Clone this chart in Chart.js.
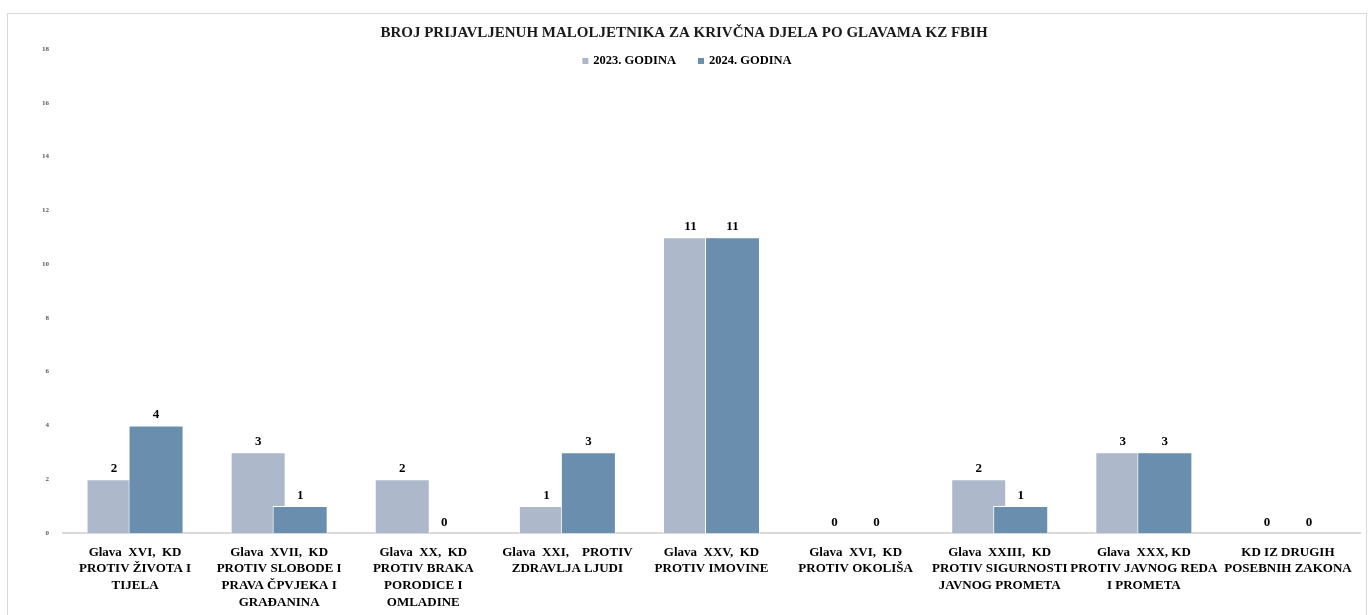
<!DOCTYPE html>
<html>
<head>
    <style>
        body, html {
            margin: 0;
            background: #ffffff;
        }
        #box {
            position: absolute;
            left: 7px;
            top: 13px;
            width: 1358px;
            height: 610px;
            border: 1px solid #d9d9d9;
        }
    </style>
    <script src="https://cdn.jsdelivr.net/npm/chart.js"></script>
</head>
<body>
    <div id="box">
        <canvas id="kzChart"></canvas>
    </div>

    <script>
        // categories (split into lines like in the original)
        const categories = [
            ["Glava  XVI,  KD", "PROTIV ŽIVOTA I", "TIJELA"],
            ["Glava  XVII,  KD", "PROTIV SLOBODE I", "PRAVA ČPVJEKA I", "GRAĐANINA"],
            ["Glava  XX,  KD", "PROTIV BRAKA", "PORODICE I", "OMLADINE"],
            ["Glava  XXI,    PROTIV", "ZDRAVLJA LJUDI"],
            ["Glava  XXV,  KD", "PROTIV IMOVINE"],
            ["Glava  XVI,  KD", "PROTIV OKOLIŠA"],
            ["Glava  XXIII,  KD", "PROTIV SIGURNOSTI", "JAVNOG PROMETA"],
            ["Glava  XXX, KD", "PROTIV JAVNOG REDA", "I PROMETA"],
            ["KD IZ DRUGIH", "POSEBNIH ZAKONA"]
        ];
        const values2023 = [2, 3, 2, 1, 11, 0, 2, 3, 0];
        const values2024 = [4, 1, 0, 3, 11, 0, 1, 3, 0];
        const seriesNames = ["2023. GODINA", "2024. GODINA"];
        const seriesColors = ['#adb9ca', '#6a8fae'];
        const yTicks = [0, 2, 4, 6, 8, 10, 12, 14, 16, 18];

        const FONT = "'Liberation Serif', serif";

        // paint datasets in index order so the 2024 bar lands on top of the
        // overlapping 2023 bar (chart.js normally paints the first one last)
        const paintOrder = {
            id: 'paintOrder',
            beforeDatasetsDraw(chart) {
                chart.data.datasets.forEach((ds, i) => {
                    const meta = chart.getDatasetMeta(i);
                    if (meta.visible !== false) meta.controller.draw();
                });
                return false;
            }
        };

        // value labels above the bars
        const valueLabels = {
            id: 'valueLabels',
            afterDraw(chart) {
                const ctx = chart.ctx;
                ctx.save();
                ctx.font = 'bold 13px ' + FONT;
                ctx.fillStyle = '#000000';
                ctx.textAlign = 'center';
                ctx.textBaseline = 'bottom';
                chart.data.datasets.forEach((ds, i) => {
                    chart.getDatasetMeta(i).data.forEach((bar, j) => {
                        ctx.fillText(String(ds.data[j]), bar.x, bar.y - 4);
                    });
                });
                ctx.restore();
            }
        };

        // legend drawn over the plot, like excel does
        const topLegend = {
            id: 'topLegend',
            afterDraw(chart) {
                const ctx = chart.ctx;
                ctx.save();
                ctx.font = 'bold 12.5px ' + FONT;
                ctx.textBaseline = 'middle';
                const box = 6, gap = 5, spacing = 22;
                const items = seriesNames.map((name, i) => ({
                    text: name,
                    color: seriesColors[i],
                    w: box + gap + ctx.measureText(name).width
                }));
                const total = items.reduce((s, it) => s + it.w, 0) + spacing * (items.length - 1);
                let x = (chart.width - total) / 2;
                const y = 47;
                items.forEach(it => {
                    ctx.fillStyle = it.color;
                    ctx.fillRect(x, y - box / 2, box, box);
                    ctx.fillStyle = '#000000';
                    ctx.fillText(it.text, x + box + gap, y);
                    x += it.w + spacing;
                });
                ctx.restore();
            }
        };

        const kzChart = new Chart(document.getElementById('kzChart'), {
            type: 'bar',
            data: {
                labels: categories,
                datasets: [{
                    label: seriesNames[0],
                    data: values2023,
                    backgroundColor: seriesColors[0]
                }, {
                    label: seriesNames[1],
                    data: values2024,
                    backgroundColor: seriesColors[1]
                }]
            },
            options: {
                responsive: true,
                maintainAspectRatio: false,
                animation: false,
                datasets: {
                    bar: {
                        borderColor: '#ffffff',
                        borderWidth: 1,
                        categoryPercentage: 0.583,
                        barPercentage: 1.31
                    }
                },
                layout: {
                    padding: { left: 0, right: 6, top: 0, bottom: 0 }
                },
                scales: {
                    x: {
                        grid: { display: false },
                        border: { display: true, color: '#d9d9d9', width: 2 },
                        ticks: {
                            autoSkip: false,
                            maxRotation: 0,
                            color: '#000000',
                            padding: 3,
                            font: { family: FONT, size: 13, weight: 'bold', lineHeight: 1.28 }
                        },
                        afterFit(scale) { scale.height = 91; }
                    },
                    y: {
                        min: 0,
                        max: 18,
                        afterBuildTicks(scale) {
                            scale.ticks = yTicks.map(v => ({ value: v }));
                        },
                        grid: { display: false },
                        border: { display: false },
                        ticks: {
                            color: '#595959',
                            padding: 6,
                            font: { family: FONT, size: 7, weight: 'bold' }
                        },
                        afterFit(scale) { scale.width = 55; }
                    }
                },
                plugins: {
                    legend: { display: false },
                    tooltip: { enabled: false },
                    title: {
                        display: true,
                        text: 'BROJ PRIJAVLJENUH MALOLJETNIKA ZA KRIVČNA DJELA PO GLAVAMA KZ FBIH',
                        color: '#1a1a1a',
                        font: { family: FONT, size: 15, weight: 'bold' },
                        padding: { top: 10, bottom: 7 }
                    }
                }
            },
            plugins: [paintOrder, valueLabels, topLegend]
        });
    </script>
</body>
</html>
